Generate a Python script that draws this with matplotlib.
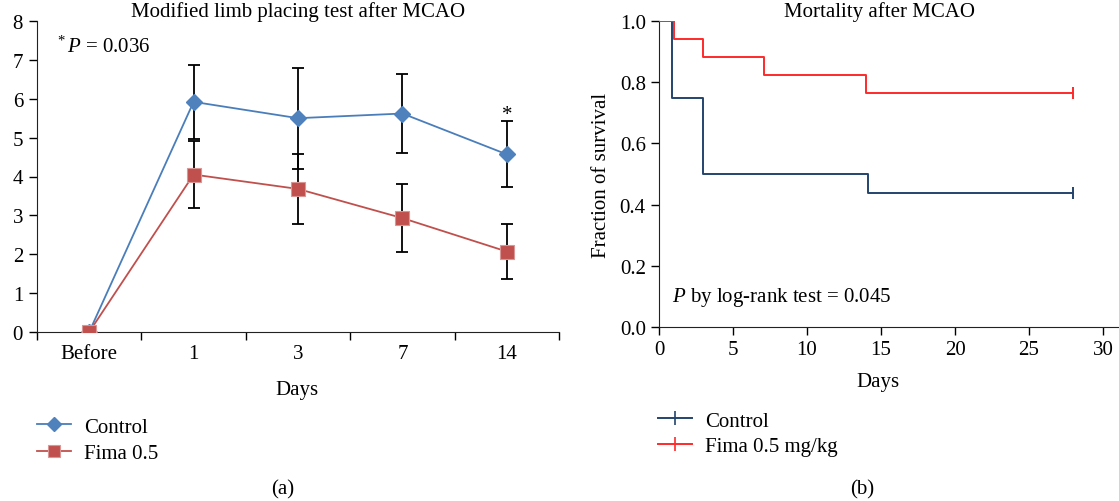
import matplotlib
matplotlib.use("Agg")
import matplotlib.pyplot as plt
from matplotlib.lines import Line2D
import numpy as np

plt.rcParams['font.family'] = ['Liberation Serif', 'DejaVu Serif']
plt.rcParams['mathtext.fontset'] = 'custom'
plt.rcParams['mathtext.it'] = 'Liberation Serif:italic'
plt.rcParams['mathtext.rm'] = 'Liberation Serif'

# ---- Panel (a) data ----
categories = ["Before", "1", "3", "7", "14"]
control_mean = [0, 5.92, 5.50, 5.62, 4.57]
control_err = [0, 0.95, 1.30, 1.02, 0.85]
fima_mean = [0, 4.05, 3.68, 2.93, 2.07]
fima_err = [0, 0.86, 0.90, 0.87, 0.70]
yticks_a = [0, 1, 2, 3, 4, 5, 6, 7, 8]

# ---- Panel (b) data (Kaplan-Meier steps) ----
ctrl_t = [0, 0.9, 3.0, 14.1, 28.0]
ctrl_s = [1.0, 0.75, 0.50, 0.4375, 0.4375]
fima_t = [0, 1.0, 3.0, 7.1, 14.0, 28.0]
fima_s = [1.0, 0.941, 0.882, 0.824, 0.765, 0.765]
xticks_b = [0, 5, 10, 15, 20, 25, 30]
yticks_b = [0.0, 0.2, 0.4, 0.6, 0.8, 1.0]

W, H = 1119, 502
fig = plt.figure(figsize=(W / 100, H / 100), dpi=100)
FS = 15

def box(l, r, t, b):
    return [l / W, 1 - b / H, (r - l) / W, (b - t) / H]

# ---------- Panel (a) ----------
ax = fig.add_axes(box(37, 559, 22, 333))
x = np.arange(len(categories))
blue = '#4a7ebb'
red = '#c0504d'
ax.errorbar(x[1:], control_mean[1:], yerr=control_err[1:], fmt='none',
            ecolor='black', elinewidth=1.3, capsize=4, capthick=1.3, zorder=2)
ax.errorbar(x[1:], fima_mean[1:], yerr=fima_err[1:], fmt='none',
            ecolor='black', elinewidth=1.3, capsize=4, capthick=1.3, zorder=2)
l1, = ax.plot(x, control_mean, color=blue, lw=1.3, marker='D', ms=8,
              mfc='#4f81bd', mec='#4f81bd', zorder=3, label='Control')
l2, = ax.plot(x, fima_mean, color=red, lw=1.3, marker='s', ms=10,
              mfc='#c0504d', mec='#d99694', mew=0.8, zorder=3, label='Fima 0.5')
ax.set_xlim(-0.5, len(categories) - 0.5)
ax.set_ylim(0, 8)
ax.set_yticks(yticks_a)
ax.set_xticks(x)
ax.set_xticklabels(categories)
ax.set_xticks(np.arange(-0.5, len(categories)), minor=True)
ax.tick_params(axis='x', which='major', length=0, pad=9, labelsize=FS)
ax.tick_params(axis='x', which='minor', length=6, direction='out', width=1)
ax.tick_params(axis='y', length=6, direction='out', width=1, labelsize=FS, pad=4)
for s in ['top', 'right']:
    ax.spines[s].set_visible(False)
ax.spines['left'].set_color('#222222')
ax.spines['bottom'].set_color('#222222')
ax.set_title('Modified limb placing test after MCAO', fontsize=FS, pad=1)
ax.text(0.035, 0.92, r'$^*P$ = 0.036', transform=ax.transAxes, fontsize=FS,
        ha='left', va='center')
ax.text(x[4], control_mean[4] + control_err[4] - 0.08, '*', fontsize=FS,
        ha='center', va='bottom')
fig.text(297 / W, 1 - 391 / H, 'Days', fontsize=FS, ha='center', va='center')
leg_a = fig.legend(handles=[l1, l2], loc='upper left', bbox_to_anchor=(37 / W, 1 - 418 / H),
                   frameon=False, fontsize=FS, handlelength=1.65, handletextpad=0.6,
                   labelspacing=0.35, borderaxespad=0, borderpad=0, markerscale=0.85)
fig.text(283 / W, 1 - 490 / H, '(a)', fontsize=FS, ha='center', va='center')

# ---------- Panel (b) ----------
bx = fig.add_axes(box(659, 1119, 22, 328))
navy = '#24446c'
redb = '#ff2a2a'
bx.step(ctrl_t, ctrl_s, where='post', color=navy, lw=1.4, zorder=2)
bx.step(fima_t, fima_s, where='post', color=redb, lw=1.4, zorder=3)
bx.plot([ctrl_t[-1]], [ctrl_s[-1]], marker='|', ms=8, mew=1.4, color=navy, ls='none')
bx.plot([fima_t[-1]], [fima_s[-1]], marker='|', ms=8, mew=1.4, color=redb, ls='none')
bx.set_xlim(0, 31.08)
bx.set_ylim(0, 1.0)
bx.set_xticks(xticks_b)
bx.set_yticks(yticks_b)
bx.set_yticklabels([f'{v:.1f}' for v in yticks_b])
bx.tick_params(axis='both', length=6, direction='out', width=1, labelsize=FS)
for s in ['top', 'right']:
    bx.spines[s].set_visible(False)
bx.spines['left'].set_color('#222222')
bx.spines['bottom'].set_color('#222222')
bx.set_title('Mortality after MCAO', fontsize=FS, pad=1, x=0.48)
bx.set_ylabel('Fraction of survival', fontsize=FS, labelpad=6)
bx.text(0.9, 0.1, r'$P$ by log-rank test = 0.045', fontsize=FS, ha='left', va='center')
fig.text(878 / W, 1 - 383 / H, 'Days', fontsize=FS, ha='center', va='center')
h1 = Line2D([], [], color=navy, lw=1.4, marker='|', ms=10, mew=1.2)
h2 = Line2D([], [], color=redb, lw=1.4, marker='|', ms=10, mew=1.2)
fig.legend(handles=[h1, h2], labels=['Control', 'Fima 0.5 mg/kg'], loc='upper left',
           bbox_to_anchor=(658 / W, 1 - 412 / H), frameon=False, fontsize=FS,
           handlelength=1.65, handletextpad=0.6, labelspacing=0.3,
           borderaxespad=0, borderpad=0)
fig.text(862 / W, 1 - 490 / H, '(b)', fontsize=FS, ha='center', va='center')

fig.savefig('out.png', dpi=100)
